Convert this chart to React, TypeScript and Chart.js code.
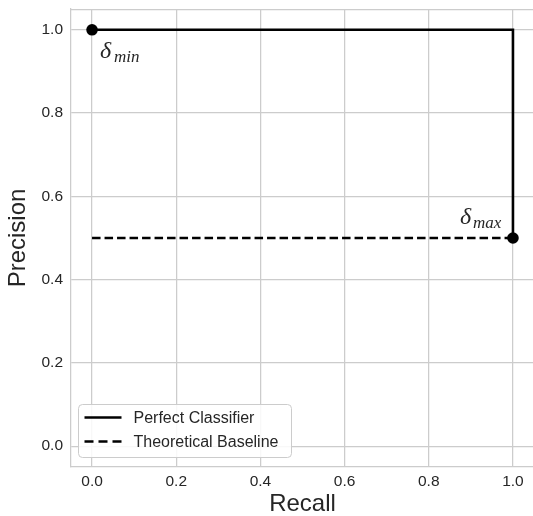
import React, { useEffect, useRef } from "react";
import { Chart, registerables } from "chart.js";
Chart.register(...registerables);

const perfectX = [0, 1, 1];
const perfectY = [1, 1, 0.5];
const baselineX = [0, 1];
const baselineY = [0.5, 0.5];
const markerX = [0, 1];
const markerY = [1, 0.5];
const xTicks = [0, 0.2, 0.4, 0.6, 0.8, 1.0];
const yTicks = [0, 0.2, 0.4, 0.6, 0.8, 1.0];
const seriesLabels = ["Perfect Classifier", "Theoretical Baseline"];
const annotationBase = ["δ", "δ"];
const annotationSub = ["min", "max"];

const GRID = "#cccccc";
const TEXT = "#262626";
const SANS = "'Liberation Sans', Arial, sans-serif";
const SERIF = "'Liberation Serif', 'Times New Roman', serif";

const zip = (xs: number[], ys: number[]) => xs.map((x, i) => ({ x, y: ys[i] }));

const bgPlugin = {
  id: "bg",
  beforeDraw(chart: any) {
    const { ctx, width, height } = chart;
    ctx.save();
    ctx.fillStyle = "#ffffff";
    ctx.fillRect(0, 0, width, height);
    ctx.restore();
  },
};

const framePlugin = {
  id: "frame",
  beforeDatasetsDraw(chart: any) {
    const { ctx, chartArea } = chart;
    ctx.save();
    ctx.strokeStyle = GRID;
    ctx.lineWidth = 1.25;
    ctx.beginPath();
    ctx.moveTo(chartArea.left, chartArea.top + 0.5);
    ctx.lineTo(chartArea.right, chartArea.top + 0.5);
    ctx.stroke();
    ctx.restore();
  },
};

const annotationPlugin = {
  id: "annot",
  afterDatasetsDraw(chart: any) {
    const { ctx, scales } = chart;
    const offsets = [
      { dx: 8, dy: 28, sdx: 22, sdy: 32 },
      { dx: -53, dy: -14, sdx: -40, sdy: -10 },
    ];
    ctx.save();
    ctx.fillStyle = TEXT;
    ctx.textBaseline = "alphabetic";
    ctx.textAlign = "left";
    for (let i = 0; i < markerX.length; i++) {
      const px = scales.x.getPixelForValue(markerX[i]);
      const py = scales.y.getPixelForValue(markerY[i]);
      const o = offsets[i];
      ctx.font = `italic 24px ${SERIF}`;
      ctx.fillText(annotationBase[i], px + o.dx, py + o.dy);
      ctx.font = `italic 17px ${SERIF}`;
      ctx.fillText(annotationSub[i], px + o.sdx, py + o.sdy);
    }
    ctx.restore();
  },
};

const legendPlugin = {
  id: "customLegend",
  afterDraw(chart: any) {
    const { ctx, chartArea } = chart;
    const items = chart.data.datasets.filter((d: any) => d.label);
    const bx = chartArea.left + 7.5;
    const bh = 53;
    const bw = 213;
    const by = chartArea.bottom - 62.5;
    ctx.save();
    ctx.beginPath();
    ctx.roundRect(bx, by, bw, bh, 4);
    ctx.fillStyle = "rgba(255,255,255,0.85)";
    ctx.fill();
    ctx.strokeStyle = GRID;
    ctx.lineWidth = 1;
    ctx.stroke();
    items.forEach((d: any, i: number) => {
      const y = by + 13 + i * 24;
      ctx.beginPath();
      ctx.strokeStyle = "#000";
      ctx.lineWidth = 2.6;
      ctx.setLineDash(d.borderDash && d.borderDash.length ? [9, 5] : []);
      ctx.moveTo(bx + 6, y);
      ctx.lineTo(bx + 43, y);
      ctx.stroke();
      ctx.setLineDash([]);
      ctx.fillStyle = TEXT;
      ctx.font = `16px ${SANS}`;
      ctx.textBaseline = "middle";
      ctx.textAlign = "left";
      ctx.fillText(d.label, bx + 55, y + 1);
    });
    ctx.restore();
  },
};

const zeroPad = (s: any) => {
  s.paddingTop = 0;
  s.paddingBottom = 0;
  s.paddingLeft = 0;
  s.paddingRight = 0;
};

export default function App() {
  const ref = useRef<HTMLCanvasElement | null>(null);
  useEffect(() => {
    if (!ref.current) return;
    const chart = new Chart(ref.current, {
      type: "line",
      data: {
        datasets: [
          {
            type: "scatter",
            data: zip(markerX, markerY),
            pointRadius: 5.8,
            pointBackgroundColor: "#000",
            pointBorderColor: "#000",
            pointBorderWidth: 0,
            showLine: false,
          } as any,
          {
            label: seriesLabels[0],
            data: zip(perfectX, perfectY),
            borderColor: "#000",
            borderWidth: 2.6,
            pointRadius: 0,
            fill: false,
            tension: 0,
          },
          {
            label: seriesLabels[1],
            data: zip(baselineX, baselineY),
            borderColor: "#000",
            borderWidth: 2.6,
            borderDash: [8.5, 4],
            pointRadius: 0,
            fill: false,
            tension: 0,
          },
        ],
      },
      options: {
        animation: false,
        responsive: false,
        maintainAspectRatio: false,
        layout: { autoPadding: false, padding: { top: 9, right: 0, left: 0, bottom: 0 } },
        plugins: {
          legend: { display: false },
          tooltip: { enabled: false },
        },
        scales: {
          x: {
            type: "linear",
            min: -0.05,
            max: 1.05,
            afterBuildTicks: (s: any) => {
              s.ticks = xTicks.map((v) => ({ value: v }));
            },
            afterFit: (s: any) => {
              s.height = 49;
              zeroPad(s);
            },
            ticks: {
              padding: 5,
              color: TEXT,
              font: { family: SANS, size: 15.5 },
              callback: (v: any) => Number(v).toFixed(1),
            },
            grid: { color: GRID, lineWidth: 1.25, drawTicks: false },
            border: { display: true, color: GRID, width: 1.25 },
            title: {
              display: true,
              text: "Recall",
              color: TEXT,
              font: { family: SANS, size: 24, lineHeight: 1 },
              padding: { top: 0, bottom: 0 },
            },
          },
          y: {
            type: "linear",
            min: -0.05,
            max: 1.05,
            afterBuildTicks: (s: any) => {
              s.ticks = yTicks.map((v) => ({ value: v }));
            },
            afterFit: (s: any) => {
              s.width = 71;
              zeroPad(s);
            },
            ticks: {
              padding: 8,
              color: TEXT,
              font: { family: SANS, size: 15.5 },
              callback: (v: any) => Number(v).toFixed(1),
            },
            grid: { color: GRID, lineWidth: 1.25, drawTicks: false },
            border: { display: true, color: GRID, width: 1.25 },
            title: {
              display: true,
              text: "Precision",
              color: TEXT,
              font: { family: SANS, size: 24, lineHeight: 1 },
              padding: { top: 6, bottom: 0 },
            },
          },
        },
      },
      plugins: [bgPlugin, framePlugin, annotationPlugin, legendPlugin],
    });
    return () => chart.destroy();
  }, []);
  return (
    <div
      style={{
        position: "fixed",
        left: 0,
        top: 0,
        width: 533,
        height: 516,
        overflow: "hidden",
        background: "#fff",
      }}
    >
      <canvas ref={ref} width={534} height={516} style={{ width: 534, height: 516, display: "block" }} />
    </div>
  );
}
